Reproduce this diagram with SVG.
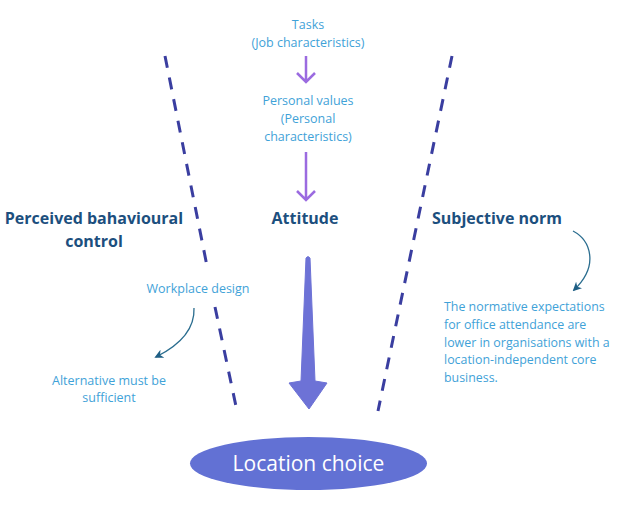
<svg xmlns="http://www.w3.org/2000/svg" width="627" height="509" viewBox="0 0 627 509">
<defs>
<style>
.lt{font-family:"Open Sans",sans-serif;font-size:12.5px;fill:#3fa2d8;text-anchor:middle}
.ll{font-family:"Open Sans",sans-serif;font-size:12.4px;fill:#3fa2d8}
.bd{font-family:"Open Sans",sans-serif;font-size:16px;font-weight:bold;fill:#1c4f7e}
.dash{stroke:#3a3ea0;stroke-width:3;fill:none;stroke-dasharray:12 10}
.pa{stroke:#9b6be0;stroke-width:2.5;fill:none}
.cv{stroke:#2a6d8f;stroke-width:1.3;fill:none}
</style>
<marker id="ah" viewBox="0 0 10 10" refX="8" refY="5" markerWidth="7" markerHeight="7" orient="auto">
<path d="M0,0 L10,5 L0,10 L3,5 Z" fill="#1f5f85"/>
</marker>
</defs>
<rect width="627" height="509" fill="#ffffff"/>
<g id="connectors">
<path class="dash" d="M165,56 L207,266"/>
<path class="dash" d="M215,307 L237,411"/>
<path class="dash" d="M452,56 L378,411"/>
<path class="pa" d="M306,56 V82 M297,73 L306,82 L315,73"/>
<path class="pa" d="M306,152 V200 M297,191 L306,200 L315,191"/>
<path d="M306,258 Q308,255 310,258 L315,381 L327,383 L309,409 L289,383 L301,381 Z" fill="#6d72d6" stroke="#6d72d6" stroke-width="1" stroke-linejoin="round"/>
<path class="cv" d="M194,308 C195,330 180,345 156,357" marker-end="url(#ah)"/>
<path class="cv" d="M573,231 C590,240 600,265 574,290" marker-end="url(#ah)"/>
</g>
<g id="tasks"><text class="lt" x="308" y="29">Tasks</text><text class="lt" x="308" y="47">(Job characteristics)</text></g>
<g id="values"><text class="lt" x="308" y="105">Personal values</text><text class="lt" x="308" y="123">(Personal</text><text class="lt" x="308" y="141">characteristics)</text></g>
<g id="attitude"><text class="bd" x="305" y="224" text-anchor="middle">Attitude</text></g>
<g id="pbc"><text class="bd" x="94" y="224" text-anchor="middle">Perceived bahavioural</text><text class="bd" x="94" y="247" text-anchor="middle">control</text></g>
<g id="norm"><text class="bd" x="432" y="224">Subjective norm</text></g>
<g id="workplace"><text class="lt" x="198" y="293">Workplace design</text></g>
<g id="alternative"><text class="lt" x="109" y="385">Alternative must be</text><text class="lt" x="109" y="402">sufficient</text></g>
<g id="normtext"><text class="ll" x="444" y="311">The normative expectations</text><text class="ll" x="444" y="329">for office attendance are</text><text class="ll" x="444" y="347">lower in organisations with a</text><text class="ll" x="444" y="364">location-independent core</text><text class="ll" x="444" y="382">business.</text></g>
<g id="choice"><ellipse cx="308.5" cy="463.5" rx="118.5" ry="26.5" fill="#6271d4"/><text x="308.5" y="471" font-family="Open Sans, sans-serif" font-size="21" fill="#ffffff" text-anchor="middle">Location choice</text></g>
</svg>
